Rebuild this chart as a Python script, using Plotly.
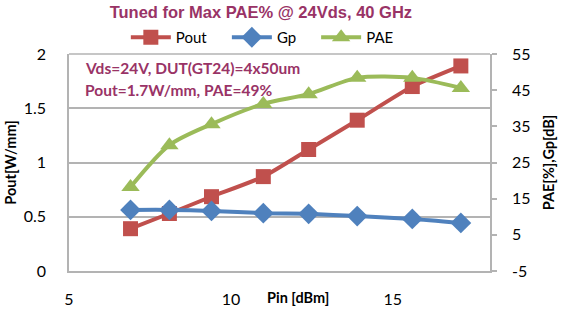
import plotly.graph_objects as go

pin = [6.9, 8.1, 9.4, 11.0, 12.4, 13.9, 15.6, 17.1]
pout = [0.39, 0.53, 0.685, 0.87, 1.12, 1.39, 1.70, 1.89]
gp = [11.9, 11.9, 11.6, 11.0, 10.8, 10.2, 9.4, 8.3]
pae = [18.2, 29.8, 35.6, 41.2, 43.9, 48.4, 48.4, 45.6]

y2_ticks = [-5, 5, 15, 25, 35, 45, 55]
y2_labels = ["-5", "5", "15", "25", "35", "45", "55"]

title_text = "Tuned for Max PAE% @ 24Vds, 40 GHz"
note1 = "Vds=24V, DUT(GT24)=4x50um"
note2 = "Pout=1.7W/mm, PAE=49%"

RED = "#C0504D"
BLUE = "#4F81BD"
GREEN = "#9BBB59"
MAROON = "#993366"
GRID = "#B3B3B3"
FONT = "Lato, 'Open Sans', sans-serif"

fig = go.Figure()
fig.add_trace(go.Scatter(x=pin, y=pout, name="Pout", mode="lines+markers", legend="legend",
                         line=dict(color=RED, width=4, shape="spline", smoothing=0.6),
                         marker=dict(symbol="square", size=15, color=RED)))
fig.add_trace(go.Scatter(x=pin, y=gp, name="Gp", mode="lines+markers", yaxis="y2", legend="legend2",
                         line=dict(color=BLUE, width=4, shape="spline", smoothing=0.6),
                         marker=dict(symbol="diamond", size=16, color=BLUE)))
fig.add_trace(go.Scatter(x=pin, y=pae, name="PAE", mode="lines+markers", yaxis="y2", legend="legend3",
                         line=dict(color=GREEN, width=4, shape="spline", smoothing=0.8),
                         marker=dict(symbol="triangle-up", size=16, color=GREEN)))

def leg(xp):
    return dict(orientation="h", x=xp, xanchor="left", y=1.0, yanchor="bottom",
                font=dict(size=15), bgcolor="rgba(0,0,0,0)", itemwidth=40)

fig.update_layout(
    width=561, height=310,
    margin=dict(l=69, r=71, t=54, b=39, autoexpand=False),
    paper_bgcolor="white", plot_bgcolor="white",
    font=dict(family=FONT, size=16, color="black"),
    title=dict(text="<b>" + title_text + "</b>", x=0.465, xanchor="center", y=0.962, yanchor="middle",
               font=dict(family="Liberation Sans, Arial", size=16.5, color=MAROON)),
    legend=leg(0.135), legend2=leg(0.375), legend3=leg(0.587),
    showlegend=True,
    xaxis=dict(range=[5, 18], tick0=5, dtick=5, showgrid=False, zeroline=False,
               showline=True, linecolor=GRID, linewidth=1.5, ticks="", automargin=False,
               ticklabelstandoff=13, tickfont=dict(size=16)),
    yaxis=dict(range=[0, 2], dtick=0.5, showgrid=True, gridcolor=GRID, gridwidth=1.5,
               zeroline=False, showline=True, linecolor=GRID, linewidth=1.5, automargin=False,
               ticks="", ticklabelstandoff=18, tickfont=dict(size=16),
               title=dict(text="<b>Pout[W/mm]</b>", font=dict(size=14.5), standoff=4)),
    yaxis2=dict(range=[-5, 55], tickvals=y2_ticks, ticktext=y2_labels, overlaying="y", side="right",
                showgrid=False, zeroline=False, showline=True, linecolor=GRID, linewidth=1.5,
                ticks="outside", ticklen=5, tickcolor=GRID, tickwidth=1.5, automargin=False,
                ticklabelstandoff=12, tickfont=dict(size=16),
                title=dict(text="<b>PAE[%],Gp[dB]</b>", font=dict(size=14.5), standoff=14)),
    annotations=[
        dict(text="<b>Pin [dBm]</b>", xref="paper", yref="paper", x=0.544, y=-0.124,
             xanchor="center", yanchor="middle", showarrow=False, font=dict(size=14.5)),
        dict(text="<b>" + note1 + "</b>", xref="paper", yref="paper", x=0.033, y=0.935,
             xanchor="left", yanchor="middle", showarrow=False, font=dict(size=15.5, color=MAROON)),
        dict(text="<b>" + note2 + "</b>", xref="paper", yref="paper", x=0.033, y=0.834,
             xanchor="left", yanchor="middle", showarrow=False, font=dict(size=15.5, color=MAROON)),
    ],
)
fig.add_shape(type="line", xref="paper", yref="paper", x0=0, x1=1, y0=1, y1=1,
              line=dict(color=GRID, width=1.5), layer="below")

fig.write_html("out.html")
